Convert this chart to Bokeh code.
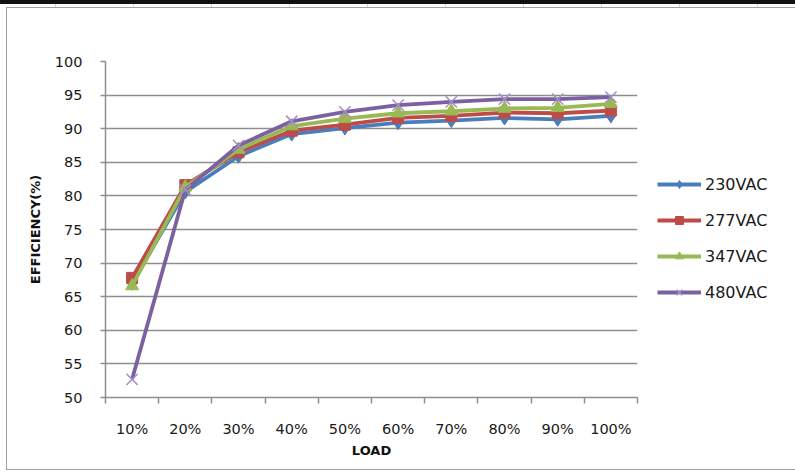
from bokeh.plotting import figure
from bokeh.models import (FixedTicker, Legend, LegendItem, Range1d, GlobalInlineStyleSheet)
from bokeh.embed import file_html
from bokeh.resources import INLINE

loads = ["10%", "20%", "30%", "40%", "50%", "60%", "70%", "80%", "90%", "100%"]
eff_230 = [67.0, 80.6, 85.9, 89.2, 90.1, 90.9, 91.2, 91.6, 91.4, 91.9]
eff_277 = [67.8, 81.6, 86.5, 89.7, 90.6, 91.6, 91.9, 92.4, 92.3, 92.7]
eff_347 = [66.6, 81.3, 86.9, 90.4, 91.5, 92.3, 92.6, 93.0, 93.1, 93.7]
eff_480 = [52.7, 80.9, 87.5, 91.1, 92.5, 93.5, 94.0, 94.4, 94.4, 94.7]
y_ticks = [50, 55, 60, 65, 70, 75, 80, 85, 90, 95, 100]

xs = [i + 0.5 for i in range(len(loads))]
bounds = list(range(len(loads) + 1))

p = figure(frame_width=532, frame_height=336, output_backend="svg", toolbar_location=None,
           x_range=Range1d(0, len(loads)), y_range=Range1d(50, 100),
           min_border_left=105, min_border_top=57, min_border_right=149, min_border_bottom=66)
p.outline_line_color = None
p.background_fill_color = "white"
p.border_fill_color = "white"
p.stylesheets = [GlobalInlineStyleSheet(css=
    "body { border-top: 4px solid #111; }"
    "body::before { content: ''; position: absolute; left: 0; top: 4px; width: 795px; height: 3px;"
    " background: repeating-linear-gradient(to right, #fff 0px, #fff 77px, #cfcfcf 77px, #cfcfcf 78px);"
    " background-position: -22px 0; pointer-events: none; z-index: 20; }"
    "body::after { content: ''; position: absolute; left: 6px; top: 7px; width: 900px; height: 461px;"
    " border: 1.5px solid #A0A0A0; pointer-events: none; z-index: 20; }")]

gray = "#8E8E8E"
font = "DejaVu Sans"

# x axis
p.xaxis.ticker = FixedTicker(ticks=xs, minor_ticks=bounds)
p.xaxis.major_label_overrides = {x: l for x, l in zip(xs, loads)}
p.xaxis.major_tick_line_color = None
p.xaxis.minor_tick_line_color = gray
p.xaxis.minor_tick_line_width = 1.5
p.xaxis.minor_tick_out = 6
p.xaxis.minor_tick_in = 0
p.xaxis.axis_line_color = gray
p.xaxis.axis_line_width = 1.5
p.xaxis.major_label_standoff = 17
p.xaxis.axis_label = "LOAD"
p.xaxis.axis_label_standoff = 3

# y axis
p.yaxis.ticker = FixedTicker(ticks=y_ticks, minor_ticks=[])
p.yaxis.major_tick_line_color = gray
p.yaxis.major_tick_line_width = 1.5
p.yaxis.major_tick_out = 5
p.yaxis.major_tick_in = 0
p.yaxis.axis_line_color = gray
p.yaxis.axis_line_width = 1.5
p.yaxis.major_label_standoff = 18
p.yaxis.axis_label = "EFFICIENCY(%)"
p.yaxis.axis_label_standoff = 9

for ax in (p.xaxis, p.yaxis):
    ax.major_label_text_font = font
    ax.major_label_text_font_size = "14.5px"
    ax.major_label_text_color = "#1a1a1a"
    ax.axis_label_text_font = font
    ax.axis_label_text_font_size = "13px"
    ax.axis_label_text_font_style = "bold"
    ax.axis_label_text_color = "#111111"

p.xgrid.grid_line_color = None
p.ygrid.ticker = FixedTicker(ticks=y_ticks)
p.ygrid.grid_line_color = gray
p.ygrid.grid_line_width = 1.5

series = [
    ("230VAC", eff_230, "#4A7EBB", "diamond", 14, "#4A7EBB", 1),
    ("277VAC", eff_277, "#BE4B48", "square", 11, "#BE4B48", 1),
    ("347VAC", eff_347, "#98B954", "triangle", 13, "#98B954", 1),
    ("480VAC", eff_480, "#7D60A0", "x", 16, "#A38FC5", 1.5),
]

items = []
for name, vals, col, marker, size, mcol, mlw in series:
    ln = p.line(xs, vals, line_color=col, line_width=3.8)
    if marker == "x":
        sc = p.scatter(xs, vals, marker=marker, size=size, line_color=mcol, line_width=mlw)
    else:
        sc = p.scatter(xs, vals, marker=marker, size=size, fill_color=mcol, line_color=mcol)
    items.append(LegendItem(label=name, renderers=[ln, sc]))

legend = Legend(items=items, location=(20, 95))
legend.border_line_color = None
legend.background_fill_alpha = 0
legend.label_text_font = font
legend.label_text_font_size = "16px"
legend.label_text_color = "#1a1a1a"
legend.glyph_width = 44
legend.glyph_height = 20
legend.label_height = 20
legend.spacing = 16
legend.label_standoff = 4
legend.margin = 0
legend.padding = 6
p.add_layout(legend, "right")

open("out.html", "w").write(file_html(p, INLINE))
